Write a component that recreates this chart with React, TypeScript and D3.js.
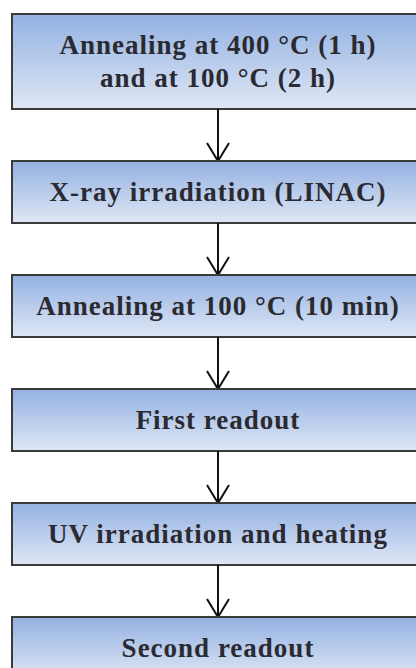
import React from "react";
import * as d3 from "d3";

const steps: string[][] = [
  ["Annealing at 400 °C (1 h)", "and at 100 °C (2 h)"],
  ["X-ray irradiation (LINAC)"],
  ["Annealing at 100 °C (10 min)"],
  ["First readout"],
  ["UV irradiation and heating"],
  ["Second readout"],
];

const W = 416;
const H = 668;

export default function App() {
  const boxLeft = 12;
  const boxRight = 424;
  const cx = 218;
  const lineH = 33;
  const baseH = 62;
  const gap = 52;
  let y = 14;
  const layout = steps.map((lines) => {
    const h = baseH + lineH * (lines.length - 1);
    const r = { y, h, lines };
    y += h + gap;
    return r;
  });
  const x = d3.scaleLinear().domain([0, 1]).range([boxLeft, boxRight]);

  return (
    <div style={{ position: "fixed", left: 0, top: 0, width: W, height: H, background: "#fff" }}>
      <svg width={W} height={H} viewBox={`0 0 ${W} ${H}`}>
        <defs>
          <linearGradient id="boxGrad" x1="0" y1="0" x2="0" y2="1">
            <stop offset="0%" stopColor="#93b1e2" />
            <stop offset="100%" stopColor="#dfe7f5" />
          </linearGradient>
        </defs>
        {layout.map((b, i) => (
          <g key={i}>
            <rect
              x={x(0)}
              y={b.y}
              width={x(1) - x(0)}
              height={b.h}
              fill="url(#boxGrad)"
              stroke="#3a3a3a"
              strokeWidth={2}
            />
            {b.lines.map((t, j) => (
              <text
                key={j}
                x={cx}
                y={b.y + b.h / 2 + (j - (b.lines.length - 1) / 2) * lineH}
                dy="0.35em"
                textAnchor="middle"
                fontFamily="'Liberation Serif', 'Times New Roman', serif"
                fontWeight="bold"
                fontSize={27}
                letterSpacing={1}
                fill="#2a2a30"
              >
                {t}
              </text>
            ))}
            {i < layout.length - 1 && (
              <g stroke="#111" strokeWidth={2} fill="none">
                <line x1={cx} y1={b.y + b.h} x2={cx} y2={layout[i + 1].y} />
                <polyline
                  points={`${cx - 11},${layout[i + 1].y - 18} ${cx},${layout[i + 1].y} ${cx + 11},${layout[i + 1].y - 18}`}
                />
              </g>
            )}
          </g>
        ))}
      </svg>
    </div>
  );
}
